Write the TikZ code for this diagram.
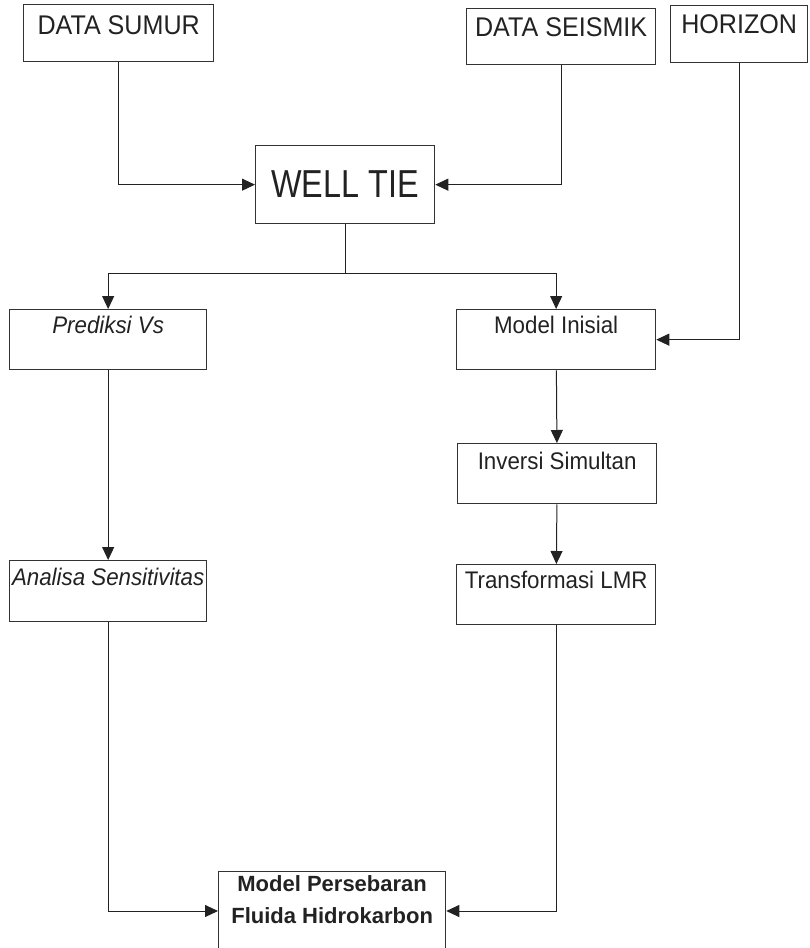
\documentclass[tikz,border=0pt]{standalone}
\usepackage{fontspec}
\setmainfont{Liberation Sans}
\newfontfamily\tiefont[FakeStretch=0.83]{Liberation Sans}
\newfontfamily\boxfont[FakeStretch=0.93]{Liberation Sans}
\usetikzlibrary{arrows.meta,positioning,calc}
\definecolor{ink}{HTML}{222222}
\definecolor{edge}{HTML}{333333}

\begin{document}
\begin{tikzpicture}[
  x=1pt, y=-1pt,
  box/.style n args={3}{draw=edge, line width=1.3pt, inner sep=0pt, anchor=north west,
    minimum width=#1, text height=#2, text depth=#3, text=ink,
    font=\boxfont\fontsize{24}{28}\selectfont},
  headbox/.style={font=\boxfont\fontsize{27}{30}\selectfont},
  arr/.style={-{Triangle[length=13pt,width=12pt]}, line width=1pt, draw=ink}
]
\clip (0,0) rectangle (809,948);
% input data
\node[box={190pt}{30pt}{27pt}, headbox] (sumur) at (23,4) {DATA SUMUR};
\node[box={189pt}{28pt}{28pt}, headbox] (seismik) at (466,8) {DATA SEISMIK};
\node[box={137pt}{28pt}{29pt}, headbox] (horizon) at (670,5) {HORIZON};
\node[box={179pt}{52pt}{26pt}, font=\tiefont\fontsize{39}{44}\selectfont] (welltie) at (255,145) {WELL TIE};
% left branch
\node[box={197pt}{24pt}{36pt}] (prediksi) at (9,309) {\itshape Prediksi Vs};
\node[box={197pt}{25pt}{36pt}] (analisa) at (9,560) {\itshape Analisa Sensitivitas};
% right branch
\node[box={199pt}{24pt}{36pt}] (inisial) at (456,309) {Model Inisial};
\node[box={199pt}{26pt}{34pt}] (inversi) at (457,443) {Inversi Simultan};
\node[box={199pt}{24pt}{36pt}] (lmr) at (456,564) {Transformasi LMR};
% result
\node[draw=edge, line width=1.3pt, inner sep=0pt, anchor=north west, text=ink] (sebaran) at (218,871)
  {\parbox[t][100pt][t]{227pt}{\centering\bfseries\fontsize{22}{32}\selectfont\rule{0pt}{20pt}Model Persebaran\\Fluida Hidrokarbon}};
\coordinate (sebaranW) at ([yshift=-40pt]sebaran.north west);
\coordinate (sebaranE) at ([yshift=-40pt]sebaran.north east);

\draw[arr] (sumur.south) |- (welltie.west);
\draw[arr] (seismik.south) |- (welltie.east);
\draw[arr] (welltie.south) -- ++(0,49) -| (prediksi.north);
\draw[arr] (welltie.south) -- ++(0,49) -| (inisial.north);
\draw[arr] (horizon.south) |- (inisial.east);
\draw[arr] (prediksi) -- (analisa);
\draw[arr] (inisial) -- (inversi);
\draw[arr] (inversi) -- (lmr);
\draw[arr] (analisa.south) |- (sebaranW);
\draw[arr] (lmr.south) |- (sebaranE);
\end{tikzpicture}
\end{document}
